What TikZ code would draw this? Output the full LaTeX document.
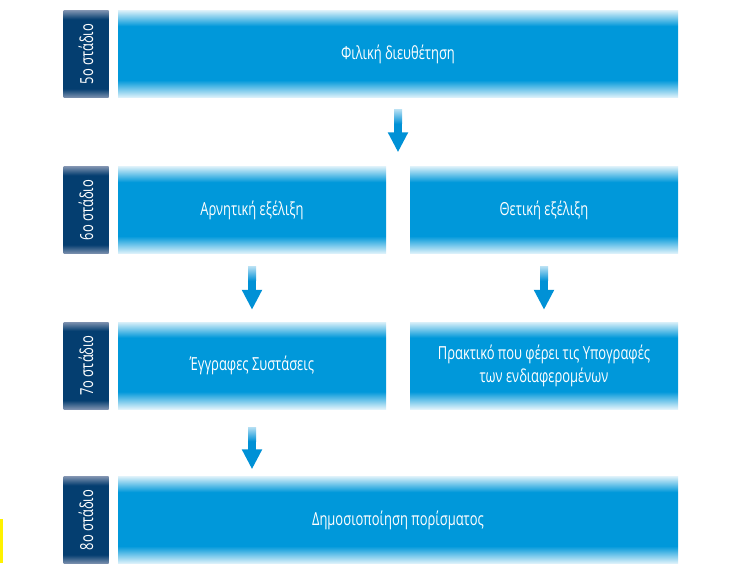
\documentclass[tikz,border=0pt]{standalone}
\usepackage{fontspec}
\setmainfont{Open Sans}[FakeStretch=0.72]
\usepackage{tikz}
\usetikzlibrary{arrows.meta,calc,positioning}
\definecolor{boxblue}{RGB}{0,152,218}
\definecolor{arrowblue}{RGB}{0,145,214}
\definecolor{stagenavy}{RGB}{4,62,112}
\definecolor{navyedge}{RGB}{125,145,175}
\pgfdeclareverticalshading{boxfade}{100bp}{color(0bp)=(boxblue!12); color(25bp)=(boxblue!12);
  color(35bp)=(boxblue); color(66bp)=(boxblue); color(75bp)=(boxblue!15); color(100bp)=(boxblue!15)}
\pgfdeclareverticalshading{stagefade}{100bp}{color(0bp)=(navyedge); color(25bp)=(navyedge);
  color(30bp)=(stagenavy); color(70bp)=(stagenavy); color(75bp)=(navyedge); color(100bp)=(navyedge)}

\begin{document}
\begin{tikzpicture}[x=1pt,y=1pt,
    widebox/.style={shading=boxfade, minimum width=560pt, minimum height=87pt, inner sep=0pt,
      text=white, align=center, font=\fontsize{18}{23}\selectfont},
    halfbox/.style={widebox, minimum width=268pt},
    stagetag/.style={shading=stagefade, minimum width=45pt, minimum height=87pt, inner sep=0pt,
      text=white, font=\fontsize{18}{20}\selectfont},
    flow/.style={-{Triangle[length=20pt,width=19pt]}, line width=8pt, arrowblue},
    flowfade/.style={top color=arrowblue!30, bottom color=arrowblue}]
        \useasboundingbox (0,0) rectangle (744,563);
        % Stage boxes
        \node[widebox] (fil) at (398,509) {Φιλική διευθέτηση};
        \node[halfbox] (neg) at (252,353) {Αρνητική εξέλιξη};
        \node[halfbox] (pos) at (544,353) {Θετική εξέλιξη};
        \node[halfbox] (rec) at (252,197.5) {Έγγραφες Συστάσεις};
        \node[halfbox] (prk) at (544,197.5) {Πρακτικό που φέρει τις Υπογραφές\\των ενδιαφερομένων};
        \node[widebox] (pub) at (398,43) {Δημοσιοποίηση πορίσματος};
        % Stage tags
        \node[stagetag, left=9pt of fil] (s5) {\rotatebox{90}{5ο στάδιο}};
        \node[stagetag, left=9pt of neg] (s6) {\rotatebox{90}{6ο στάδιο}};
        \node[stagetag, left=9pt of rec] (s7) {\rotatebox{90}{7ο στάδιο}};
        \node[stagetag, left=9pt of pub] (s8) {\rotatebox{90}{8ο στάδιο}};
        % Arrows
        \draw[flow, shorten <=12pt, shorten >=14pt] (fil.south) -- (fil.south |- neg.north);
        \draw[flow, shorten <=13pt, shorten >=12pt] (neg.south) -- (neg.south |- rec.north);
        \draw[flow, shorten <=13pt, shorten >=12pt] (pos.south) -- (pos.south |- prk.north);
        \draw[flow, shorten <=18pt, shorten >=7pt] (rec.south) -- (rec.south |- pub.north);
        % Faded shaft tops
        \shade[flowfade] ($(fil.south)+(-4,-12)$) rectangle ($(fil.south)+(4,-26)$);
        \shade[flowfade] ($(neg.south)+(-4,-13)$) rectangle ($(neg.south)+(4,-27)$);
        \shade[flowfade] ($(pos.south)+(-4,-13)$) rectangle ($(pos.south)+(4,-27)$);
        \shade[flowfade] ($(rec.south)+(-4,-18)$) rectangle ($(rec.south)+(4,-32)$);
        % Edge mark
        \fill[yellow] (0,0) rectangle (3,44);
\end{tikzpicture}
\end{document}
